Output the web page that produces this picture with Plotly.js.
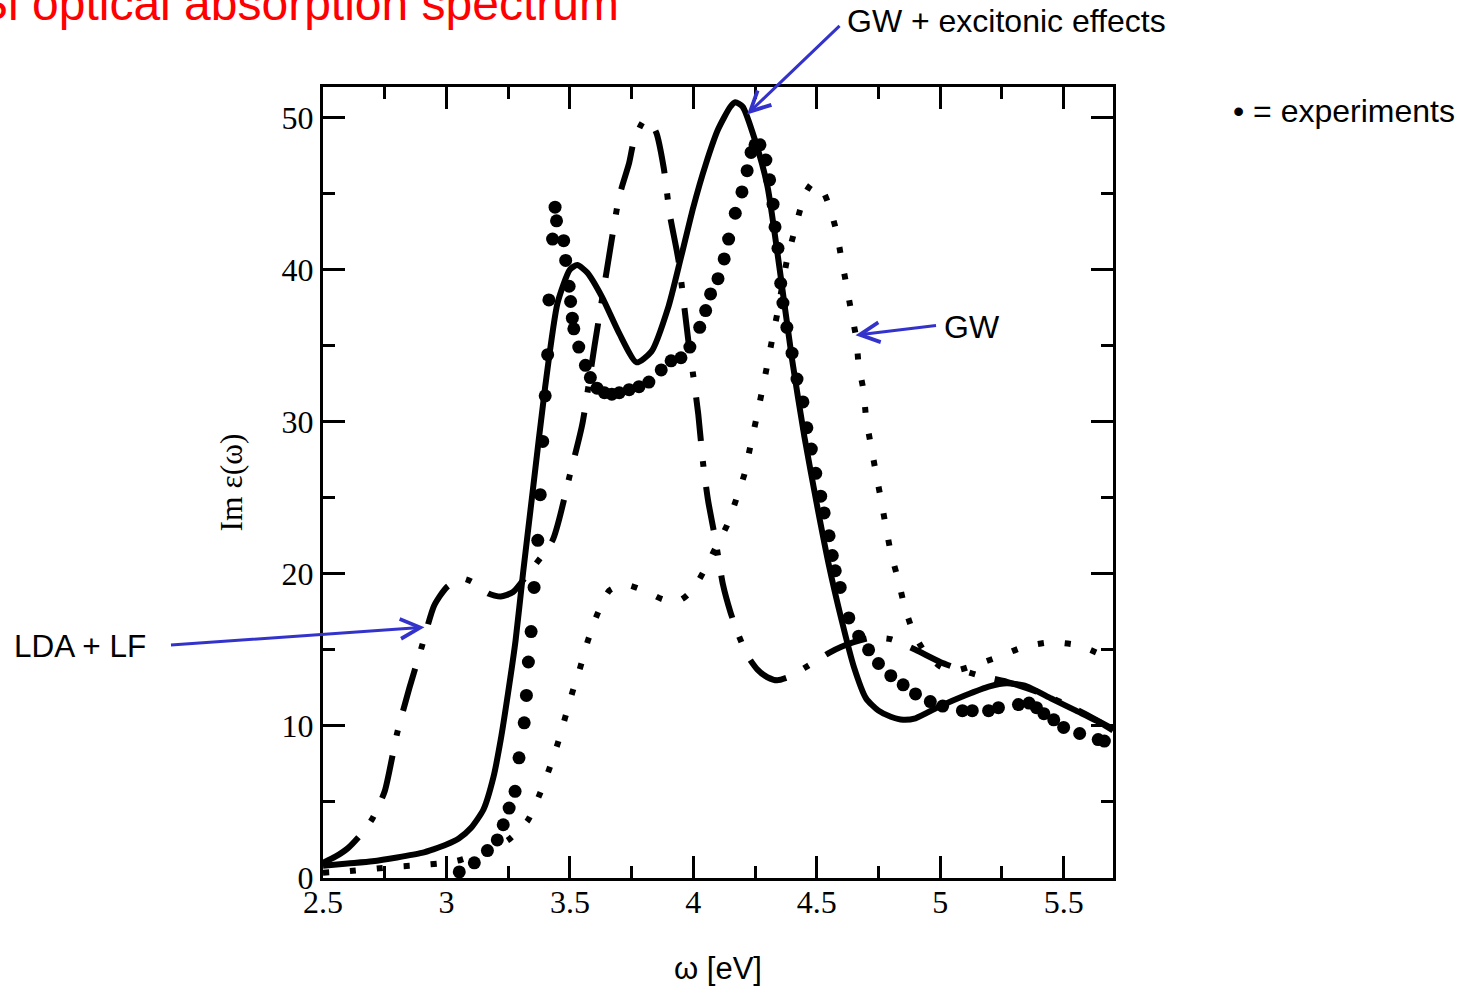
<!DOCTYPE html>
<html><head><meta charset="utf-8">
<script src="https://cdn.plot.ly/plotly-3.0.1.min.js"></script>
<style>html,body{margin:0;padding:0;background:#fff;overflow:hidden;} #chart{width:1466px;height:986px;}</style>
</head><body><div id="chart"></div>
<script>
// ---- data ----
const xTickVals = [2.5, 3, 3.5, 4, 4.5, 5, 5.5];
const xTickText = ['2.5', '3', '3.5', '4', '4.5', '5', '5.5'];
const yTickVals = [0, 10, 20, 30, 40, 50];
const yTickText = ['0', '10', '20', '30', '40', '50'];

// GW + excitonic effects (solid)
const bseX = [2.5,2.6,2.7,2.8,2.9,2.95,3.0,3.05,3.1,3.15,3.19,3.22,3.25,3.28,3.31,3.35,3.4,3.45,3.5,3.53,3.57,3.63,3.7,3.77,3.83,3.9,3.95,4.0,4.05,4.1,4.15,4.17,4.2,4.25,4.3,4.35,4.4,4.45,4.5,4.55,4.6,4.65,4.7,4.75,4.8,4.85,4.9,5.0,5.1,5.2,5.27,5.35,5.45,5.55,5.65,5.7];
const bseY = [0.8,0.95,1.1,1.35,1.65,1.9,2.2,2.6,3.3,4.5,6.6,9.1,12.2,15.6,20.0,25.5,32.3,37.8,40.0,40.3,39.8,38.2,35.8,33.9,34.6,37.6,40.8,44.1,46.9,49.2,50.7,51.0,50.7,48.5,45.5,40.0,34.1,29.0,24.6,20.5,17.0,13.9,11.8,11.0,10.6,10.4,10.5,11.3,12.0,12.6,12.8,12.6,11.8,11.0,10.2,9.7];

// LDA + LF (dash-dot)
const ldaX = [2.5,2.55,2.6,2.65,2.7,2.75,2.8,2.85,2.9,2.95,3.0,3.06,3.1,3.17,3.22,3.27,3.33,3.43,3.5,3.55,3.6,3.65,3.7,3.74,3.76,3.8,3.82,3.85,3.88,3.905,3.94,3.98,4.0,4.02,4.04,4.06,4.09,4.12,4.15,4.18,4.22,4.26,4.3,4.34,4.4,4.45,4.5,4.55,4.6,4.65,4.72,4.8,4.9,5.0,5.1,5.16,5.27,5.4,5.55,5.7];
const ldaY = [1.0,1.4,1.95,2.8,3.9,5.7,9.5,12.5,15.2,17.9,19.1,19.7,19.5,18.7,18.5,18.8,20.0,22.2,26.5,29.8,35.0,40.0,44.8,47.0,48.5,49.8,49.8,49.0,46.7,43.6,40.6,35.3,33.0,30.5,27.2,24.8,22.2,19.3,17.5,16.1,14.6,13.7,13.2,13.0,13.3,13.8,14.3,14.8,15.2,15.5,15.8,15.7,15.0,14.2,13.6,13.3,12.9,12.2,11.1,9.8];

// GW (dotted)
const gwX = [2.5,2.6,2.7,2.8,2.9,3.0,3.06,3.15,3.25,3.33,3.375,3.415,3.45,3.48,3.51,3.543,3.573,3.61,3.66,3.72,3.8,3.88,3.95,4.0,4.04,4.09,4.137,4.174,4.208,4.23,4.254,4.277,4.298,4.318,4.34,4.36,4.379,4.406,4.434,4.46,4.484,4.51,4.53,4.55,4.58,4.6,4.62,4.64,4.66,4.67,4.69,4.7,4.72,4.74,4.76,4.78,4.8,4.83,4.855,4.89,4.94,5.0,5.05,5.14,5.23,5.34,5.45,5.56,5.65,5.7];
const gwY = [0.35,0.45,0.6,0.75,0.85,1.0,1.2,1.7,2.5,3.8,5.4,7.1,8.8,10.5,12.2,13.9,15.6,17.3,18.9,19.3,18.9,18.3,18.3,19.0,20.1,21.7,23.2,24.9,26.6,28.3,30.1,31.9,33.6,35.3,37.1,38.9,40.6,42.3,44.0,45.2,45.7,45.4,45.0,44.2,42.5,40.7,39.0,37.2,35.5,33.7,32.0,30.2,28.4,26.6,24.9,23.1,21.4,19.6,17.9,16.2,14.8,13.9,13.6,14.0,14.5,15.2,15.5,15.3,14.7,14.4];

// experiments (filled circles)
const expX = [3.052,3.113,3.166,3.206,3.23,3.254,3.278,3.294,3.315,3.324,3.332,3.343,3.355,3.37,3.38,3.39,3.40,3.41,3.415,3.43,3.44,3.446,3.475,3.483,3.497,3.503,3.51,3.516,3.536,3.563,3.583,3.61,3.64,3.67,3.70,3.74,3.78,3.82,3.87,3.91,3.95,3.986,4.026,4.05,4.07,4.10,4.125,4.143,4.17,4.197,4.218,4.234,4.25,4.27,4.294,4.309,4.323,4.331,4.343,4.354,4.363,4.379,4.40,4.42,4.444,4.46,4.478,4.496,4.516,4.53,4.55,4.563,4.575,4.595,4.63,4.67,4.71,4.75,4.80,4.85,4.90,4.96,5.01,5.09,5.13,5.196,5.236,5.317,5.36,5.39,5.42,5.46,5.50,5.565,5.64,5.665];
const expY = [0.4,1.0,1.8,2.5,3.5,4.6,5.7,7.9,10.2,12.0,14.2,16.2,19.1,22.2,25.2,28.7,31.7,34.4,38.0,42.0,44.1,43.2,41.9,40.6,38.9,37.9,36.8,36.1,34.9,33.7,32.9,32.2,31.9,31.8,31.9,32.1,32.3,32.6,33.4,34.0,34.2,34.9,36.2,37.3,38.4,39.4,40.7,42.0,43.7,45.1,46.5,47.7,48.2,48.2,47.2,45.9,44.3,42.8,41.4,39.1,37.8,36.2,34.5,32.8,31.3,29.6,28.2,26.6,25.1,24.0,22.5,21.2,20.2,19.1,17.1,15.9,15.0,14.1,13.3,12.7,12.1,11.6,11.3,11.0,11.0,11.0,11.2,11.4,11.5,11.2,10.8,10.4,9.9,9.5,9.1,9.0];

const titleText = 'Si optical absorption spectrum';
const xTitle = 'ω [eV]';
const yTitle = 'Im ε(ω)';

// ---- styling ----
const SANS = 'Liberation Sans, Arial, sans-serif';
const SERIF = 'Liberation Serif, Times New Roman, serif';
const BLUE = '#3333cc';

const traces = [
  {x: gwX, y: gwY, type: 'scatter', mode: 'lines', name: 'GW',
   line: {color: '#000', width: 6, dash: '6px,21px', shape: 'spline', smoothing: 0.6}},
  {x: ldaX, y: ldaY, type: 'scatter', mode: 'lines', name: 'LDA + LF',
   line: {color: '#000', width: 6, dash: '44px,20px,6px,20px', shape: 'spline', smoothing: 0.6}},
  {x: bseX, y: bseY, type: 'scatter', mode: 'lines', name: 'GW + excitonic effects',
   line: {color: '#000', width: 6, shape: 'spline', smoothing: 0.6}},
  {x: expX, y: expY, type: 'scatter', mode: 'markers', name: 'experiments',
   marker: {color: '#000', size: 13, symbol: 'circle'}}
];

const axisCommon = {
  showline: true, linecolor: '#000', linewidth: 3, mirror: 'ticks',
  ticks: 'inside', ticklen: 22, tickwidth: 3, tickcolor: '#000',
  showgrid: false, zeroline: false,
  tickfont: {family: SERIF, size: 32, color: '#000'}
};

const layout = {
  width: 1466, height: 986,
  paper_bgcolor: '#fff', plot_bgcolor: '#fff',
  margin: {l: 323, r: 353, t: 87, b: 108, pad: 0},
  showlegend: false,
  xaxis: Object.assign({}, axisCommon, {
    range: [2.5, 5.7], tickmode: 'array', tickvals: xTickVals, ticktext: xTickText,
    ticklabelstandoff: -6,
    minor: {dtick: 0.25, tick0: 2.5, ticks: 'inside', ticklen: 12, tickwidth: 3, tickcolor: '#000', showgrid: false},
    title: {text: xTitle, font: {family: SANS, size: 31, color: '#000'}, standoff: 46}
  }),
  yaxis: Object.assign({}, axisCommon, {
    range: [0, 52], tickmode: 'array', tickvals: yTickVals, ticktext: yTickText,
    minor: {dtick: 5, tick0: 0, ticks: 'inside', ticklen: 12, tickwidth: 3, tickcolor: '#000', showgrid: false},
    title: {text: yTitle, font: {family: SERIF, size: 31.5, color: '#000'}, standoff: 30}
  }),
  annotations: [
    {text: titleText, xref: 'paper', yref: 'paper', x: -0.4418, y: 1.1055, xanchor: 'left', yanchor: 'middle',
     showarrow: false, font: {family: SANS, size: 48, color: '#ff0000'}},
    {text: 'GW + excitonic effects', xref: 'paper', yref: 'paper', x: 0.6608, y: 1.0831, xanchor: 'left', yanchor: 'middle',
     showarrow: false, font: {family: SANS, size: 32, color: '#000'}},
    {text: '• = experiments', xref: 'paper', yref: 'paper', x: 1.1494, y: 0.9697, xanchor: 'left', yanchor: 'middle',
     showarrow: false, font: {family: SANS, size: 32, color: '#000'}},
    {text: 'GW', xref: 'paper', yref: 'paper', x: 0.7835, y: 0.6966, xanchor: 'left', yanchor: 'middle',
     showarrow: false, font: {family: SANS, size: 32, color: '#000'}},
    {text: 'LDA + LF', xref: 'paper', yref: 'paper', x: -0.3937, y: 0.2933, xanchor: 'left', yanchor: 'middle',
     showarrow: false, font: {family: SANS, size: 31.5, color: '#000'}},
    // arrows
    {text: '', xref: 'x', yref: 'y', x: 4.2177, y: 50.2, ax: 94, ay: -90, showarrow: true,
     arrowcolor: BLUE, arrowwidth: 3, arrowhead: 5, arrowsize: 1.3},
    {text: '', xref: 'x', yref: 'y', x: 4.657, y: 35.68, ax: 82, ay: -10, showarrow: true,
     arrowcolor: BLUE, arrowwidth: 3, arrowhead: 5, arrowsize: 1.3},
    {text: '', xref: 'x', yref: 'y', x: 2.911, y: 16.49, ax: -255, ay: 18, showarrow: true,
     arrowcolor: BLUE, arrowwidth: 3, arrowhead: 5, arrowsize: 1.3}
  ]
};

Plotly.newPlot('chart', traces, layout, {displayModeBar: false, staticPlot: true});
</script>
</body></html>
